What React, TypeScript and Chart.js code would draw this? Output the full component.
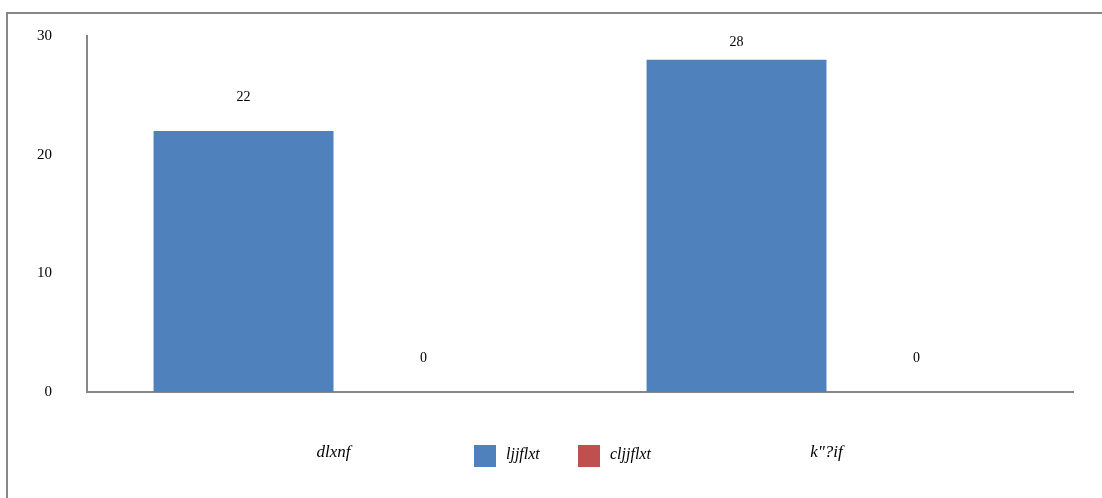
import React, { useEffect, useRef } from "react";
import { Chart, registerables } from "chart.js";

Chart.register(...registerables);

const categories = ["dlxnf", "k\"?if"];
const seriesNames = ["ljjflxt", "cljjflxt"];
const seriesA = [22, 28];
const seriesB = [0, 0];
const yTicks = [0, 10, 20, 30];

const BLUE = "#4F81BD";
const RED = "#C0504D";
const AXIS = "#878787";
const NUM_FONT = "'Liberation Serif', 'DejaVu Serif', serif";
const CAT_FONT = "'Liberation Serif', 'DejaVu Serif', serif";

const valueLabels = {
  id: "valueLabels",
  afterDatasetsDraw(chart: any) {
    const ctx = chart.ctx;
    ctx.save();
    ctx.font = `14px ${NUM_FONT}`;
    ctx.fillStyle = "#000";
    ctx.textAlign = "center";
    ctx.textBaseline = "middle";
    chart.data.datasets.forEach((ds: any, di: number) => {
      const meta = chart.getDatasetMeta(di);
      meta.data.forEach((bar: any, i: number) => {
        const y = Math.max(bar.y - 34, 42);
        ctx.fillText(String(ds.data[i]), bar.x, y);
      });
    });
    ctx.restore();
  },
};

const inlineLegend = {
  id: "inlineLegend",
  afterDraw(chart: any) {
    const ctx = chart.ctx;
    ctx.save();
    const positions = [474, 578];
    const cy = 455;
    chart.data.datasets.forEach((ds: any, i: number) => {
      const x = positions[i];
      ctx.fillStyle = ds.backgroundColor;
      ctx.fillRect(x, cy - 10, 22, 22);
      ctx.fillStyle = "#000";
      ctx.font = `italic 16px ${CAT_FONT}`;
      ctx.textAlign = "left";
      ctx.textBaseline = "middle";
      ctx.fillText(ds.label, x + 32, cy);
    });
    ctx.restore();
  },
};

export default function App() {
  const ref = useRef<HTMLCanvasElement>(null);
  useEffect(() => {
    if (!ref.current) return;
    const chart = new Chart(ref.current, {
      type: "bar",
      data: {
        labels: categories,
        datasets: [
          { label: seriesNames[0], data: seriesA, backgroundColor: BLUE, borderWidth: 0 },
          { label: seriesNames[1], data: seriesB, backgroundColor: RED, borderWidth: 0 },
        ],
      },
      options: {
        responsive: false,
        animation: false,
        layout: { padding: { top: 36, right: 29, left: 0, bottom: 0 } },
        plugins: {
          legend: { display: false },
          tooltip: { enabled: false },
        },
        datasets: {
          bar: { categoryPercentage: 0.73, barPercentage: 1.0 },
        },
        scales: {
          x: {
            grid: { display: false, drawTicks: false },
            border: { display: true, color: AXIS, width: 2 },
            ticks: {
              padding: 50,
              color: "#000",
              font: { family: CAT_FONT, size: 17, style: "italic" },
            },
            afterFit(scale: any) {
              scale.height = 106;
              scale.paddingLeft = 0;
              scale.paddingRight = 0;
            },
          },
          y: {
            min: 0,
            max: 30,
            afterBuildTicks(scale: any) {
              scale.ticks = yTicks.map((v) => ({ value: v }));
            },
            grid: { display: false, drawTicks: false },
            border: { display: true, color: AXIS, width: 2 },
            ticks: {
              padding: 35,
              color: "#000",
              font: { family: NUM_FONT, size: 15 },
            },
            afterFit(scale: any) {
              scale.width = 87;
              scale.paddingTop = 0;
              scale.paddingBottom = 0;
            },
          },
        },
      },
      plugins: [valueLabels, inlineLegend],
    });
    return () => chart.destroy();
  }, []);

  return (
    <div>
      <div
        style={{
          position: "fixed",
          left: 6,
          top: 12,
          width: 1200,
          height: 600,
          border: `2px solid ${AXIS}`,
          boxSizing: "border-box",
          background: "#fff",
        }}
      />
      <canvas
        ref={ref}
        width={1102}
        height={498}
        style={{ position: "fixed", left: 0, top: 0, width: 1102, height: 498 }}
      />
    </div>
  );
}
